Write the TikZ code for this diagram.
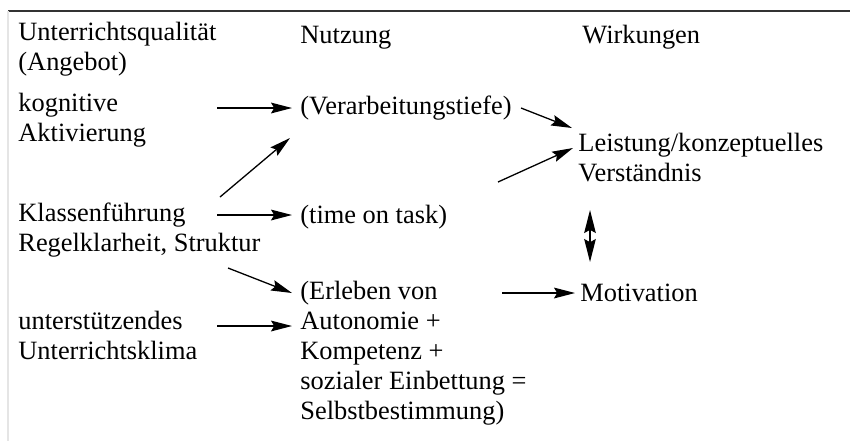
\documentclass[tikz,border=0pt]{standalone}
\usepackage{fontspec}
\setmainfont{Liberation Serif}
\usetikzlibrary{arrows.meta,positioning}

\begin{document}
\begin{tikzpicture}[
    x=0.5pt, y=-0.5pt,
    txt/.style={inner sep=0pt, anchor=north west, align=left, font=\fontsize{13.2}{15}\selectfont, execute at begin node=\strut},
    rel/.style={-{Stealth[length=10.5pt, width=5.4pt, inset=1.6pt]}, line width=0.65pt},
    both/.style={{Stealth[length=11.5pt, width=5.8pt, inset=1.6pt]}-{Stealth[length=11.5pt, width=5.8pt, inset=1.6pt]}, line width=0.65pt},
    rule/.style={line width=0.75pt, black!80}
]
\useasboundingbox (0,0) rectangle (850,441);

\draw[rule] (8,11) -- (850,11);
\draw[line width=0.75pt, black!10] (8,11) -- (8,441);

\node[txt] (hqual) at (18,22) {Unterrichtsqualität\\(Angebot)};
\node[txt] (hnutz) at (300,22) {Nutzung};
\node[txt] (hwirk) at (582,22) {Wirkungen};

\node[txt] (kog) at (18,93) {kognitive\\Aktivierung};
\node[txt] (kla) at (18,202) {Klassenführung\\Regelklarheit, Struktur};
\node[txt] (unt) at (18,311) {unterstützendes\\Unterrichtsklima};

\node[txt] (ver) at (300,93) {(Verarbeitungstiefe)};
\node[txt] (tot) at (300,202) {(time on task)};
\node[txt] (erl) at (300,281) {(Erleben von\\Autonomie +\\Kompetenz +\\sozialer Einbettung =\\Selbstbestimmung)};

\node[txt] (lei) at (578,133) {Leistung/konzeptuelles\\Verständnis};
\node[txt] (mot) at (580,280) {Motivation};

\draw[rel] ([shift={(199,15)}]kog.north west) -- ([shift={(-8,15)}]ver.north west);
\draw[rel] ([shift={(202,-5)}]kla.north west) -- ([shift={(-10,45)}]ver.north west);
\draw[rel] ([shift={(199,13)}]kla.north west) -- ([shift={(-8,13)}]tot.north west);
\draw[rel] ([shift={(210,66)}]kla.north west) -- ([shift={(-8,12)}]erl.north west);
\draw[rel] ([shift={(199,15)}]unt.north west) -- ([shift={(-8,45)}]erl.north west);

\draw[rel] ([shift={(221,15)}]ver.north west) -- ([shift={(-6,-5)}]lei.north west);
\draw[rel] ([shift={(198,-20)}]tot.north west) -- ([shift={(-5,15)}]lei.north west);
\draw[rel] ([shift={(202,12)}]erl.north west) -- ([shift={(-5,13)}]mot.north west);

\draw[both] ([shift={(12,77)}]lei.north west) -- ([shift={(10,-18)}]mot.north west);
\end{tikzpicture}
\end{document}
